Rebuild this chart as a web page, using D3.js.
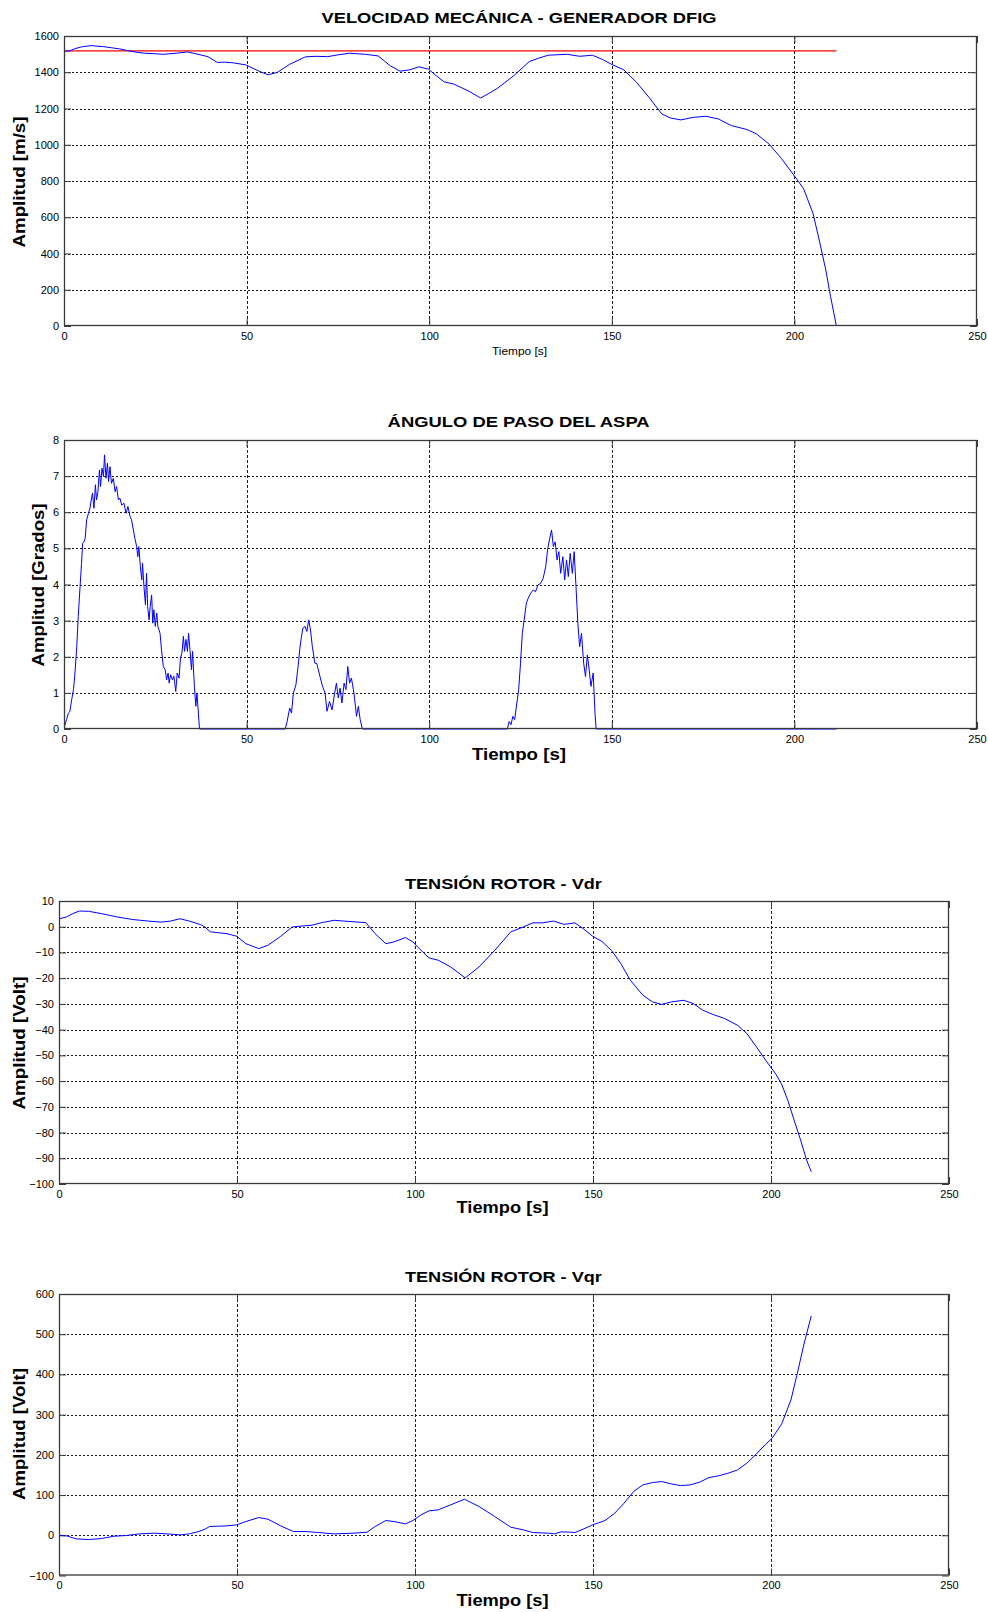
<!DOCTYPE html>
<html>
<head>
<meta charset="utf-8">
<script src="https://cdn.jsdelivr.net/npm/d3@7/dist/d3.min.js"></script>
<style>
  html, body { margin: 0; padding: 0; background: #ffffff; }
  svg { display: block; }
  text { font-family: Arial, "Liberation Sans", Helvetica, sans-serif; fill: #000; }
</style>
</head>
<body>
<svg id="fig" width="988" height="1612"></svg>
<script>
// ---- Data --------------------------------------------------------------
const tiempoTicks = [0, 50, 100, 150, 200, 250];

// Velocidad mecánica del generador [m/s] vs tiempo [s]
const velocidadTicks = [0, 200, 400, 600, 800, 1000, 1200, 1400, 1600];
const velocidadReferencia = 1518;
const velocidadRefFin = 211.5;
const velocidad = [
  [0, 1518], [1.4, 1516], [3, 1530], [4.8, 1540], [7.4, 1547], [10.9, 1541], [13, 1535],
  [15.2, 1529], [17.8, 1518], [20, 1510], [22.1, 1505], [25, 1502], [27.3, 1499],
  [30.7, 1505], [33.8, 1512], [35.9, 1503], [39.4, 1486], [42, 1454], [44, 1456],
  [46.3, 1452], [49.7, 1441], [53.2, 1408], [55.8, 1386], [58.4, 1399], [61.8, 1444],
  [66.1, 1485], [69, 1488], [72.2, 1486], [75, 1496], [78.2, 1505], [82.5, 1499],
  [86, 1490], [89.4, 1435], [92, 1406], [94.6, 1413], [97.2, 1430], [99.8, 1417],
  [102, 1380], [104.1, 1347], [106.7, 1335], [111, 1294], [114.1, 1258], [116.5, 1285],
  [118.8, 1313], [123.1, 1380], [127.4, 1459], [130, 1478], [132.6, 1494], [137.8, 1499],
  [141.2, 1488], [144.7, 1494], [147.5, 1470], [149.9, 1444], [153.3, 1413], [156.8, 1344],
  [160.2, 1261], [163.7, 1170], [166, 1148], [168.9, 1137], [172.3, 1151], [175.8, 1157],
  [179.2, 1142], [182.7, 1106], [187, 1084], [189.6, 1060], [193, 1005], [196.5, 923],
  [199.9, 831], [202.5, 758], [205.1, 621], [206.8, 474], [208.6, 309], [209.9, 163], [211.5, 0]
];

// Ángulo de paso del aspa [grados] vs tiempo [s]
const anguloTicks = [0, 1, 2, 3, 4, 5, 6, 7, 8];
const angulo = [
  [0, 0], [0.4, 0.17], [0.7, 0.26], [1.2, 0.44], [1.6, 0.48], [2.1, 0.81], [2.6, 1.09],
  [3.0, 1.55], [3.5, 2.29], [3.9, 3.12], [4.4, 3.94], [4.8, 4.59], [5.1, 5.14], [5.5, 5.19],
  [5.8, 5.28], [6.2, 5.79], [6.7, 5.97], [7.1, 6.11], [7.6, 6.43], [7.8, 6.53], [8.2, 6.11],
  [8.6, 6.76], [8.9, 6.34], [9.3, 6.57], [9.7, 7.17], [10.0, 6.71], [10.4, 7.22], [10.8, 6.99],
  [11.1, 7.59], [11.5, 6.94], [11.9, 7.36], [12.2, 6.85], [12.6, 7.26], [13.0, 6.80],
  [13.5, 6.94], [14.0, 6.57], [14.4, 6.71], [14.9, 6.34], [15.3, 6.39], [15.8, 6.20],
  [16.4, 6.25], [17.0, 5.97], [17.5, 6.16], [18.1, 5.88], [18.5, 5.79], [19.0, 5.51],
  [19.4, 5.28], [19.9, 5.05], [20.2, 4.77], [20.5, 5.05], [20.9, 4.50], [21.3, 4.13],
  [21.5, 4.59], [21.9, 3.94], [22.3, 3.44], [22.6, 4.31], [22.9, 3.39], [23.3, 3.02],
  [23.6, 3.39], [24.0, 3.71], [24.3, 2.93], [24.6, 3.30], [25.0, 2.84], [25.4, 3.21],
  [25.7, 2.84], [26.3, 2.65], [26.7, 2.19], [27.2, 1.73], [27.7, 1.64], [28.1, 1.36],
  [28.5, 1.55], [28.8, 1.27], [29.2, 1.50], [29.7, 1.36], [30.1, 1.46], [30.6, 1.04],
  [31.0, 1.55], [31.5, 1.41], [31.9, 1.97], [32.3, 2.11], [32.7, 2.57], [33.0, 2.15],
  [33.4, 2.48], [33.8, 2.15], [34.1, 2.65], [34.5, 2.19], [34.9, 1.64], [35.2, 2.15],
  [35.7, 1.18], [36.1, 0.63], [36.4, 1.0], [36.8, 0.44], [37.1, 0],
  [60.6, 0], [61.1, 0.21], [61.8, 0.58], [62.3, 0.44], [62.8, 0.99], [63.5, 1.22],
  [64.1, 1.73], [64.6, 2.24], [64.9, 2.47], [65.4, 2.79], [66.0, 2.84], [66.5, 2.70],
  [67.0, 3.02], [67.5, 2.74], [68.0, 2.28], [68.7, 1.82], [69.2, 1.82], [70.1, 1.45],
  [70.8, 1.18], [71.5, 0.99], [72.0, 0.49], [72.7, 0.76], [73.4, 0.53], [74.1, 0.99],
  [74.6, 1.27], [75.1, 0.86], [75.6, 1.13], [76.1, 0.72], [76.7, 1.27], [77.2, 1.09],
  [77.7, 1.73], [78.2, 1.27], [78.7, 1.41], [79.4, 0.99], [80.1, 0.35], [80.6, 0.63],
  [81.1, 0.26], [81.7, 0],
  [121.4, 0], [121.9, 0.21], [122.4, 0.12], [122.9, 0.35], [123.4, 0.26], [124.0, 0.72],
  [124.5, 1.09], [125.0, 1.82], [125.5, 2.65], [126.0, 3.02], [126.6, 3.48], [127.1, 3.62],
  [127.8, 3.76], [128.5, 3.85], [129.1, 3.80], [129.8, 3.99], [130.5, 4.03], [131.2, 4.17],
  [131.9, 4.49], [132.4, 4.95], [132.9, 5.23], [133.5, 5.51], [134.0, 5.05], [134.5, 5.18],
  [135.0, 4.68], [135.5, 4.91], [136.0, 4.31], [136.6, 4.77], [137.1, 4.13], [137.6, 4.68],
  [138.1, 4.22], [138.6, 4.86], [139.2, 4.31], [139.7, 4.91], [140.2, 3.94], [140.7, 2.93],
  [141.2, 2.28], [141.7, 2.65], [142.3, 1.82], [142.8, 1.45], [143.3, 2.05], [143.8, 1.64],
  [144.3, 1.18], [144.9, 1.55], [145.4, 0.44], [145.7, 0], [211.5, 0]
];

// Tensión rotor Vdr [V] vs tiempo [s]
const vdrTicks = [-100, -90, -80, -70, -60, -50, -40, -30, -20, -10, 0, 10];
const vdr = [
  [0, 10], [0.1, 3.1], [2.1, 3.8], [3.9, 5.1], [5.7, 6.1], [8.3, 6.0], [11.9, 5.1],
  [16.3, 3.8], [20.7, 2.8], [25.1, 2.2], [28.7, 1.8], [31.3, 2.2], [34.0, 3.1], [36.6, 2.2],
  [39.8, 0.8], [41.0, -0.1], [42.5, -2.0], [44.6, -2.3], [47.2, -2.7], [49.9, -3.7],
  [52.5, -6.6], [56.1, -8.5], [58.7, -7.2], [62.3, -3.7], [65.5, -0.1], [68.5, 0.3],
  [71.1, 0.6], [73.8, 1.6], [77.3, 2.5], [80.9, 2.1], [86.2, 1.6], [88.8, -2.7], [91.8, -6.6],
  [94.1, -5.9], [97.3, -4.2], [99.4, -5.9], [101.2, -8.5], [103.9, -12.1], [106.5, -13.0],
  [110.0, -15.6], [114.1, -19.9], [118.0, -15.6], [122.4, -9.2], [126.9, -2.0], [130.4, -0.1],
  [133.1, 1.5], [135.7, 1.5], [138.9, 2.2], [141.9, 0.9], [144.9, 1.5], [147.2, -0.7],
  [149.9, -3.7], [152.5, -5.7], [155.2, -9.2], [157.8, -14.3], [160.5, -20.8], [164.0, -26.6],
  [166.7, -29.2], [169.3, -30.2], [172.0, -29.2], [175.5, -28.6], [178.2, -29.9],
  [180.8, -32.4], [183.5, -34.0], [187.0, -35.7], [190.6, -38.3], [193.2, -41.5],
  [195.9, -46.7], [198.5, -51.9], [201.2, -57.0], [202.9, -60.9], [204.7, -67.4],
  [206.5, -75.2], [208.3, -82.9], [210.0, -90.7], [211.3, -95.2]
];

// Tensión rotor Vqr [V] vs tiempo [s]
const vqrTicks = [-100, 0, 100, 200, 300, 400, 500, 600];
const vqr = [
  [0, 0], [2.1, -1.4], [4.8, -8.9], [8.3, -10.6], [11.9, -8.1], [15.4, -2.3], [18.9, -0.6],
  [22.5, 3.5], [26.9, 5.2], [30.4, 3.5], [34.0, 1.0], [36.6, 3.5], [39.3, 9.3], [41.0, 15.1],
  [42.3, 21.8], [44.6, 22.6], [47.2, 23.4], [49.9, 25.9], [52.5, 34.2], [56.1, 44.1],
  [58.7, 40.0], [62.3, 23.4], [65.8, 9.3], [69.4, 9.3], [72.9, 6.8], [77.3, 3.5], [82.6, 5.2],
  [86.5, 7.7], [88.8, 21.8], [91.8, 36.7], [94.1, 34.2], [97.3, 28.4], [99.4, 36.7],
  [101.7, 50.7], [103.9, 60.7], [106.5, 63.2], [110.0, 75.6], [113.9, 89.7], [118.0, 71.5],
  [122.4, 46.6], [126.9, 20.1], [130.4, 13.5], [133.1, 6.8], [137.5, 5.2], [139.2, 3.5],
  [141.0, 8.5], [143.7, 7.7], [144.9, 6.8], [147.2, 15.1], [149.9, 25.9], [153.4, 36.7],
  [156.1, 54.9], [158.7, 79.7], [161.4, 108.7], [164.0, 125.3], [166.7, 131.1],
  [169.3, 133.6], [172.0, 127.8], [174.6, 123.6], [177.3, 125.3], [179.9, 131.9],
  [182.6, 143.5], [185.2, 147.7], [187.9, 154.3], [190.6, 162.6], [193.2, 179.2],
  [195.9, 202.4], [198.5, 226.4], [200.3, 241.3], [203.0, 276.9], [205.6, 336.6],
  [207.4, 402.8], [209.2, 473.3], [211.3, 545.3]
];

// ---- Layout ------------------------------------------------------------
const panels = [
  {
    title: "VELOCIDAD MECÁNICA - GENERADOR DFIG", titleX: 519, titleY: 22.5, titleLen: 395,
    box: { left: 64, right: 977, top: 36, bottom: 326 },
    yDomain: [0, 1600], yTicks: velocidadTicks,
    ylabel: "Amplitud [m/s]", ylabelX: 24.5, ylabelY: 182, ylabelLen: 131,
    xlabel: "Tiempo [s]", xlabelBold: false, xlabelX: 519.5, xlabelY: 355, xlabelLen: 55,
    series: velocidad, reference: velocidadReferencia
  },
  {
    title: "ÁNGULO DE PASO DEL ASPA", titleX: 518.6, titleY: 427, titleLen: 262,
    box: { left: 64, right: 977, top: 440, bottom: 729 },
    yDomain: [0, 8], yTicks: anguloTicks,
    ylabel: "Amplitud [Grados]", ylabelX: 44, ylabelY: 585, ylabelLen: 163,
    xlabel: "Tiempo [s]", xlabelBold: true, xlabelX: 519, xlabelY: 759.5, xlabelLen: 94,
    series: angulo
  },
  {
    title: "TENSIÓN ROTOR - Vdr", titleX: 503.4, titleY: 889.3, titleLen: 197,
    box: { left: 59, right: 949, top: 901, bottom: 1184 },
    yDomain: [-100, 10], yTicks: vdrTicks,
    ylabel: "Amplitud [Volt]", ylabelX: 24.5, ylabelY: 1043, ylabelLen: 133,
    xlabel: "Tiempo [s]", xlabelBold: true, xlabelX: 502.5, xlabelY: 1213, xlabelLen: 92,
    series: vdr
  },
  {
    title: "TENSIÓN ROTOR - Vqr", titleX: 503.4, titleY: 1282, titleLen: 197,
    box: { left: 59, right: 949, top: 1294, bottom: 1575.5 },
    yDomain: [-100, 600], yTicks: vqrTicks,
    ylabel: "Amplitud [Volt]", ylabelX: 24.5, ylabelY: 1434, ylabelLen: 132,
    xlabel: "Tiempo [s]", xlabelBold: true, xlabelX: 502.5, xlabelY: 1606, xlabelLen: 92,
    series: vqr
  }
];

// ---- Drawing -----------------------------------------------------------
const svg = d3.select("#fig");
const axisColor = "#3a3a3a";
const gridColor = "#1a1a1a";
const tickLen = 7;

panels.forEach((p, i) => {
  const b = p.box;
  const x = d3.scaleLinear().domain([0, 250]).range([b.left, b.right]);
  const y = d3.scaleLinear().domain(p.yDomain).range([b.bottom, b.top]);
  const g = svg.append("g").attr("class", "panel-" + i);

  const clipId = "clip-" + i;
  g.append("clipPath").attr("id", clipId)
    .append("rect")
    .attr("x", b.left).attr("y", b.top - 1)
    .attr("width", b.right - b.left).attr("height", b.bottom - b.top + 2);

  // horizontal dotted grid
  g.append("g").selectAll("line")
    .data(p.yTicks.filter(v => v !== p.yDomain[0] && v !== p.yDomain[1]))
    .join("line")
    .attr("x1", b.left).attr("x2", b.right)
    .attr("y1", d => Math.round(y(d)) + 0.5).attr("y2", d => Math.round(y(d)) + 0.5)
    .attr("stroke", gridColor).attr("stroke-width", 1)
    .attr("stroke-dasharray", "2,2");

  // vertical dashed grid
  g.append("g").selectAll("line")
    .data(tiempoTicks.filter(v => v !== 0 && v !== 250))
    .join("line")
    .attr("x1", d => Math.round(x(d)) + 0.5).attr("x2", d => Math.round(x(d)) + 0.5)
    .attr("y1", b.top).attr("y2", b.bottom)
    .attr("stroke", gridColor).attr("stroke-width", 1)
    .attr("stroke-dasharray", "3,2");

  // axes with inward ticks on all four sides
  const xAxisB = d3.axisBottom(x).tickValues(tiempoTicks).tickSize(-tickLen).tickPadding(6).tickFormat(d3.format("d"));
  const xAxisT = d3.axisTop(x).tickValues(tiempoTicks).tickSize(-tickLen).tickFormat("");
  const yAxisL = d3.axisLeft(y).tickValues(p.yTicks).tickSize(-tickLen).tickPadding(5).tickFormat(d3.format("d"));
  const yAxisR = d3.axisRight(y).tickValues(p.yTicks).tickSize(-tickLen).tickFormat("");

  const styleAxis = sel => {
    sel.select(".domain").remove();
    sel.selectAll(".tick line").attr("stroke", axisColor);
    sel.selectAll(".tick text")
      .style("font-family", "Arial, 'Liberation Sans', sans-serif")
      .style("font-size", "11px").attr("fill", "#000");
  };
  g.append("g").attr("transform", `translate(0,${b.bottom})`).call(xAxisB).call(styleAxis)
    .selectAll(".tick text").attr("dy", "0.71em");
  g.append("g").attr("transform", `translate(0,${b.top})`).call(xAxisT).call(styleAxis);
  g.append("g").attr("transform", `translate(${b.left},0)`).call(yAxisL).call(styleAxis);
  g.append("g").attr("transform", `translate(${b.right},0)`).call(yAxisR).call(styleAxis);

  // reference speed line
  if (p.reference !== undefined) {
    g.append("line")
      .attr("x1", x(0)).attr("x2", x(velocidadRefFin))
      .attr("y1", y(p.reference)).attr("y2", y(p.reference))
      .attr("stroke", "#ff0000").attr("stroke-width", 1.2);
  }

  // signal
  const line = d3.line().x(d => x(d[0])).y(d => y(d[1]));
  g.append("path")
    .datum(p.series)
    .attr("clip-path", `url(#${clipId})`)
    .attr("d", line)
    .attr("fill", "none")
    .attr("stroke", "#0000ff")
    .attr("stroke-width", 1)
    .attr("stroke-linejoin", "round");

  // axes box
  g.append("rect")
    .attr("x", b.left + 0.5).attr("y", b.top + 0.5)
    .attr("width", b.right - b.left - 1).attr("height", b.bottom - b.top - 1)
    .attr("fill", "none").attr("stroke", axisColor).attr("stroke-width", 1.3);

  // title
  g.append("text")
    .attr("x", p.titleX).attr("y", p.titleY)
    .attr("text-anchor", "middle")
    .attr("textLength", p.titleLen).attr("lengthAdjust", "spacingAndGlyphs")
    .style("font-size", "15px").style("font-weight", "bold")
    .text(p.title);

  // x label
  g.append("text")
    .attr("x", p.xlabelX).attr("y", p.xlabelY)
    .attr("text-anchor", "middle")
    .attr("textLength", p.xlabelLen).attr("lengthAdjust", "spacingAndGlyphs")
    .style("font-size", p.xlabelBold ? "16px" : "11px")
    .style("font-weight", p.xlabelBold ? "bold" : "normal")
    .text(p.xlabel);

  // y label
  g.append("text")
    .attr("transform", `translate(${p.ylabelX},${p.ylabelY}) rotate(-90)`)
    .attr("text-anchor", "middle")
    .attr("textLength", p.ylabelLen).attr("lengthAdjust", "spacingAndGlyphs")
    .style("font-size", "16px").style("font-weight", "bold")
    .text(p.ylabel);
});
</script>
</body>
</html>
